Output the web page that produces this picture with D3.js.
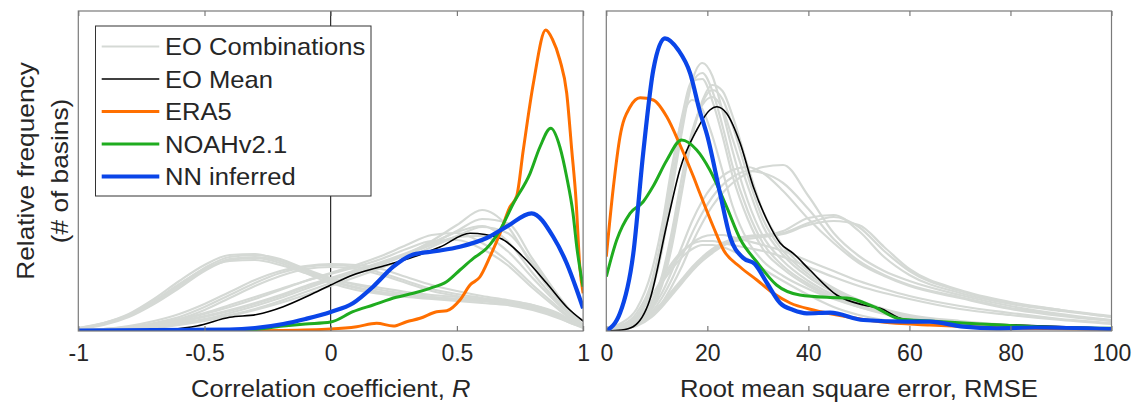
<!DOCTYPE html>
<html>
<head>
<meta charset="utf-8">
<script src="https://cdn.jsdelivr.net/npm/d3@7"></script>
<style>
  html, body { margin: 0; padding: 0; background: #fff; }
  svg text { font-family: "Liberation Sans", Arial, Helvetica, sans-serif; fill: #262626; }
</style>
</head>
<body>
<svg id="chart" width="1134" height="403"></svg>
<script>
// ---------------- DATA ----------------
// Left panel: correlation coefficient R ; right panel: RMSE. y = relative frequency (arbitrary units)
const corrTicks = [-1, -0.5, 0, 0.5, 1];
const corrTickLabels = ["-1", "-0.5", "0", "0.5", "1"];
const rmseTicks = [0, 20, 40, 60, 80, 100];
const rmseTickLabels = ["0", "20", "40", "60", "80", "100"];
const legendLabels = ["EO Combinations", "EO Mean", "ERA5", "NOAHv2.1", "NN inferred"];

// EO combinations (grey) – left panel, common grid
const gridR = [-1, -0.9, -0.8, -0.7, -0.6, -0.5, -0.4, -0.3, -0.2, -0.1, 0, 0.1, 0.2, 0.3, 0.4, 0.5, 0.6, 0.7, 0.8, 0.9, 0.95, 1];
const eoCombR = [
  [3, 8, 17, 32, 50, 66, 76, 77, 70, 60, 50, 43, 38, 35, 33, 31, 30, 28, 24, 15, 9, 4],
  [2, 7, 15, 29, 46, 63, 74, 76, 72, 62, 53, 46, 41, 37, 34, 32, 31, 29, 25, 16, 10, 5],
  [2, 6, 14, 27, 43, 60, 71, 73, 68, 58, 48, 41, 37, 34, 32, 30, 28, 26, 21, 13, 8, 3],
  [3, 8, 16, 30, 47, 62, 70, 71, 66, 58, 52, 47, 43, 39, 36, 34, 32, 30, 26, 18, 11, 5],
  [2, 7, 15, 28, 45, 61, 72, 74, 70, 61, 51, 44, 39, 36, 34, 32, 30, 27, 22, 14, 8, 4],
  [1, 2, 4, 8, 14, 24, 36, 48, 58, 64, 66, 64, 58, 50, 42, 37, 33, 29, 24, 15, 10, 5],
  [1, 2, 5, 10, 17, 27, 39, 51, 60, 65, 67, 66, 62, 54, 46, 40, 35, 31, 26, 17, 11, 6],
  [1, 2, 4, 7, 12, 21, 33, 45, 55, 62, 64, 62, 56, 48, 40, 35, 31, 27, 22, 14, 9, 4],
  [0, 1, 2, 4, 7, 11, 16, 22, 30, 39, 48, 57, 66, 77, 90, 106, 121, 105, 65, 32, 18, 5],
  [0, 1, 2, 4, 8, 12, 18, 25, 33, 42, 51, 59, 67, 76, 87, 100, 112, 108, 72, 36, 20, 6],
  [0, 1, 3, 6, 10, 15, 21, 28, 36, 45, 53, 61, 69, 78, 88, 99, 105, 90, 58, 29, 16, 5],
  [0, 1, 3, 6, 11, 17, 24, 32, 41, 50, 58, 66, 75, 86, 96, 98, 88, 70, 46, 24, 13, 4],
  [0, 1, 3, 7, 12, 18, 26, 34, 42, 50, 57, 64, 72, 82, 90, 91, 82, 66, 43, 22, 12, 4],
  [0, 0, 1, 3, 6, 10, 15, 21, 28, 36, 45, 54, 63, 73, 84, 95, 104, 98, 68, 34, 18, 6],
  [0, 1, 2, 5, 9, 14, 20, 27, 35, 44, 52, 60, 68, 77, 86, 94, 95, 80, 53, 27, 15, 5]
];

// EO mean (black) – left
const eoMeanRx = [-1, -0.75, -0.636, -0.53, -0.4, -0.293, -0.188, -0.082, 0, 0.088, 0.195, 0.327, 0.433, 0.552, 0.671, 0.763, 0.856, 0.935, 1];
const eoMeanRy = [0, 0, 1.5, 5, 13.7, 16.5, 24.3, 36, 46, 56, 64, 74, 84, 97.7, 92.7, 74, 47.7, 24, 10];
// ERA5 (orange) – left
const era5Rx = [-1, -0.45, -0.2, 0, 0.103, 0.182, 0.248, 0.301, 0.354, 0.42, 0.46, 0.512, 0.552, 0.591, 0.631, 0.671, 0.71, 0.737, 0.763, 0.803, 0.852, 0.878, 0.908, 0.935, 0.955, 0.972, 0.987, 1];
const era5Ry = [0, 0, 0.5, 2, 4.3, 7.7, 5, 9.3, 12.7, 19.3, 20.3, 31, 46, 54, 74.3, 97.7, 124, 135, 181, 247.7, 301, 292, 271, 238, 181, 131, 64, 37.7];
// NOAHv2.1 (green) – left
const noahRx = [-1, -0.35, -0.188, -0.1, 0, 0.088, 0.168, 0.26, 0.327, 0.393, 0.459, 0.512, 0.565, 0.618, 0.671, 0.724, 0.79, 0.829, 0.872, 0.908, 0.935, 0.96, 0.975, 1];
const noahRy = [0, 0.5, 5, 7, 9, 19.3, 26, 33.7, 37.7, 42.7, 49.3, 61, 72.7, 82.7, 101, 127.7, 157.7, 184, 202.7, 184, 154, 117.7, 84, 44.3];
// NN inferred (blue) – left
const nnRx = [-1, -0.4, -0.3, -0.188, -0.1, 0, 0.088, 0.168, 0.248, 0.327, 0.42, 0.512, 0.618, 0.697, 0.796, 0.882, 0.935, 0.975, 1];
const nnRy = [0.5, 1.5, 3, 7, 12, 19, 27.7, 44.3, 64.3, 76.5, 80, 84.3, 93, 104.3, 117.7, 94, 67.7, 41, 22.7];

// EO combinations (grey) – right panel, common grid
const gridE = [0, 3, 6, 9, 11, 13, 15, 17, 19, 21, 23, 25, 28, 31, 35, 40, 45, 50, 55, 60, 70, 80, 90, 100];
const eoCombE = [
  [2, 5, 14, 40, 80, 140, 200, 250, 268, 255, 220, 180, 130, 95, 70, 50, 36, 26, 19, 14, 8, 5, 3, 2],
  [2, 5, 15, 45, 88, 150, 205, 248, 258, 240, 205, 165, 120, 88, 65, 47, 34, 25, 18, 13, 8, 5, 3, 2],
  [3, 6, 18, 50, 95, 160, 215, 250, 252, 230, 195, 155, 112, 82, 62, 45, 33, 24, 17, 12, 7, 4, 3, 2],
  [1, 3, 8, 22, 45, 85, 140, 195, 230, 246, 240, 215, 165, 120, 85, 60, 43, 31, 22, 16, 10, 6, 4, 2],
  [1, 3, 9, 25, 50, 92, 145, 195, 228, 241, 232, 205, 155, 112, 80, 57, 41, 30, 21, 15, 9, 6, 4, 2],
  [3, 8, 22, 60, 105, 165, 212, 231, 222, 195, 160, 125, 90, 70, 55, 42, 32, 24, 18, 13, 8, 5, 3, 2],
  [1, 4, 10, 28, 55, 100, 155, 200, 226, 234, 222, 192, 145, 105, 76, 54, 39, 28, 20, 14, 9, 5, 3, 2],
  [0, 2, 8, 22, 38, 60, 85, 110, 130, 145, 155, 161, 164, 158, 140, 112, 88, 68, 55, 45, 33, 22, 15, 10],
  [0, 1, 6, 16, 28, 45, 65, 88, 108, 125, 138, 148, 158, 164, 166, 135, 98, 75, 60, 50, 36, 25, 17, 11],
  [0, 2, 7, 19, 33, 52, 75, 98, 118, 134, 146, 154, 160, 158, 148, 122, 92, 70, 56, 46, 34, 23, 16, 10],
  [0, 2, 6, 16, 26, 38, 50, 62, 72, 80, 86, 90, 94, 95, 100, 113, 116, 100, 74, 56, 38, 27, 20, 14],
  [0, 3, 8, 18, 28, 40, 52, 64, 74, 82, 88, 92, 95, 96, 98, 108, 114, 104, 80, 60, 40, 28, 21, 15],
  [0, 2, 5, 14, 24, 36, 48, 60, 70, 78, 85, 89, 92, 94, 97, 106, 110, 106, 84, 62, 41, 29, 21, 14],
  [0, 3, 12, 30, 48, 65, 78, 88, 94, 96, 96, 94, 90, 86, 80, 70, 60, 50, 42, 35, 25, 18, 12, 8],
  [0, 4, 15, 35, 52, 68, 80, 87, 90, 90, 88, 86, 83, 80, 74, 64, 54, 45, 38, 32, 22, 16, 11, 7],
  [0, 3, 12, 30, 48, 62, 74, 82, 86, 86, 84, 80, 72, 62, 50, 36, 24, 16, 11, 8, 5, 3, 2, 1]
];
// EO mean (black) – right
const eoMeanEx = [0, 3, 5.3, 8.6, 12, 14.6, 17.9, 20.5, 21.9, 23.8, 26.5, 29.1, 31.8, 34.4, 37, 40.3, 45.6, 50.9, 54.2, 58.8, 67.4, 80.5, 100];
const eoMeanEy = [0, 1, 4.3, 31, 107, 162, 201, 221, 224.3, 217.7, 187.7, 144.3, 111, 88, 77.7, 61, 36, 26, 22.7, 11.7, 8.3, 6, 2.7];
// ERA5 (orange) – right
const era5Ex = [0, 1.4, 2.7, 4.7, 6.7, 9.3, 12, 14.6, 17.2, 18.5, 21.2, 23.2, 26.5, 29.8, 33, 36.4, 41, 47.6, 54.2, 64, 80, 100];
const era5Ey = [74.3, 144, 194, 224, 233.3, 231, 214, 186, 155, 138, 104, 81, 64, 51, 38, 28, 21, 14.3, 9.3, 6, 3, 2];
// NOAHv2.1 (green) – right
const noahEx = [0, 2.06, 4.7, 7.3, 9.3, 12, 14.9, 17.9, 20.5, 23.8, 26.5, 29.8, 33.7, 38.3, 44.3, 47.6, 52.9, 58.1, 64, 74, 85, 100];
const noahEy = [54.3, 91, 117.7, 129.3, 145, 171, 191, 181, 161, 124.3, 92, 69, 46, 36, 33.5, 33, 24.3, 12, 10, 7, 4.3, 2.7];
// NN inferred (blue) – right
const nnEx = [0, 2.7, 5.35, 7.3, 9.3, 11.6, 14.25, 16.6, 18.5, 20.0, 22.5, 24.5, 27.1, 29.4, 31.8, 34.4, 37, 39.7, 44.3, 50.9, 59.5, 64, 70.7, 77.3, 85, 100];
const nnEy = [0, 17.7, 77.7, 177.7, 261, 292.7, 281, 257.7, 220, 195, 138, 94, 73, 67, 48, 28, 21, 17.7, 18.3, 11, 9.3, 9.3, 4.3, 2.7, 3.5, 2];

// ---------------- STYLE ----------------
const COL = { grey: "#d5d9d5", black: "#000000", orange: "#ff6f00", green: "#1fac1f", blue: "#0a45e8" };
const WID = { grey: 2.2, black: 1.6, orange: 3, green: 3, blue: 4.2 };
const TXT_STRETCH = 1.065;   // reference glyphs are slightly wider than Liberation Sans

// ---------------- DRAW ----------------
const svg = d3.select("#chart");
const yTop = 11, yBot = 331;
const y = d3.scaleLinear().domain([0, 320]).range([yBot, yTop]);
const xL = d3.scaleLinear().domain([-1, 1]).range([78.3, 583.1]);
const xE = d3.scaleLinear().domain([0, 100]).range([606.3, 1111.5]);

function zip(xs, ys) { return xs.map((v, i) => [v, ys[i]]); }

function panel(id, x, ticks, tickLabels, grey, gridX, series, xlabelParts, zeroLine) {
  const g = svg.append("g");
  const [x0, x1] = x.range();
  g.append("clipPath").attr("id", "clip" + id).append("rect")
    .attr("x", x0).attr("y", yTop).attr("width", x1 - x0).attr("height", yBot - yTop);

  const line = d3.line().x(d => x(d[0])).y(d => y(d[1])).curve(d3.curveMonotoneX);
  const plot = g.append("g").attr("clip-path", `url(#clip${id})`);

  if (zeroLine) {
    plot.append("line").attr("x1", x(0)).attr("x2", x(0)).attr("y1", yTop).attr("y2", yBot)
      .attr("stroke", "#000").attr("stroke-width", 1);
  }
  grey.forEach(arr => {
    plot.append("path").attr("d", line(zip(gridX, arr))).attr("fill", "none")
      .attr("stroke", COL.grey).attr("stroke-width", WID.grey).attr("stroke-linejoin", "round");
  });
  series.forEach(s => {
    plot.append("path").attr("d", line(zip(s.x, s.y))).attr("fill", "none")
      .attr("stroke", COL[s.k]).attr("stroke-width", WID[s.k]).attr("stroke-linejoin", "round");
  });

  // frame
  g.append("rect").attr("x", x0).attr("y", yTop).attr("width", x1 - x0).attr("height", yBot - yTop)
    .attr("fill", "none").attr("stroke", "#7a7a7a").attr("stroke-width", 1.2);
  // ticks inside (bottom & top)
  const axB = d3.axisBottom(x).tickValues(ticks).tickSize(-5).tickFormat((d, i) => tickLabels[i]).tickPadding(14);
  const gb = g.append("g").attr("transform", `translate(0,${yBot})`).call(axB);
  gb.select(".domain").remove();
  gb.selectAll(".tick line").attr("stroke", "#7a7a7a").attr("stroke-width", 1.2);
  gb.selectAll(".tick text").attr("font-size", 23).attr("fill", "#262626")
    .attr("font-family", '"Liberation Sans", Arial, sans-serif');
  const axT = d3.axisTop(x).tickValues(ticks).tickSize(-5).tickFormat("");
  const gt = g.append("g").attr("transform", `translate(0,${yTop})`).call(axT);
  gt.select(".domain").remove();
  gt.selectAll(".tick line").attr("stroke", "#7a7a7a").attr("stroke-width", 1.2);

  // x label
  const t = g.append("text")
    .attr("transform", `translate(${(x0 + x1) / 2},397) scale(${TXT_STRETCH},1)`)
    .attr("text-anchor", "middle").attr("font-size", 24);
  xlabelParts.forEach(p => {
    const ts = t.append("tspan").text(p.t);
    if (p.i) ts.attr("font-style", "italic");
  });
  return g;
}

panel("L", xL, corrTicks, corrTickLabels, eoCombR, gridR, [
  { k: "black", x: eoMeanRx, y: eoMeanRy },
  { k: "orange", x: era5Rx, y: era5Ry },
  { k: "green", x: noahRx, y: noahRy },
  { k: "blue", x: nnRx, y: nnRy }
], [{ t: "Correlation coefficient, " }, { t: "R", i: true }], true);

panel("E", xE, rmseTicks, rmseTickLabels, eoCombE, gridE, [
  { k: "black", x: eoMeanEx, y: eoMeanEy },
  { k: "orange", x: era5Ex, y: era5Ey },
  { k: "green", x: noahEx, y: noahEy },
  { k: "blue", x: nnEx, y: nnEy }
], [{ t: "Root mean square error, RMSE" }], false);

// y label (two lines)
const yc = (yTop + yBot) / 2;
svg.append("text").attr("transform", `translate(34,${yc}) rotate(-90) scale(${TXT_STRETCH + 0.03},1)`)
  .attr("text-anchor", "middle").attr("font-size", 24).text("Relative frequency");
svg.append("text").attr("transform", `translate(68,${yc}) rotate(-90) scale(${TXT_STRETCH + 0.03},1)`)
  .attr("text-anchor", "middle").attr("font-size", 24).text("(# of basins)");

// legend
const lg = svg.append("g");
lg.append("rect").attr("x", 95.5).attr("y", 26).attr("width", 275.5).attr("height", 170)
  .attr("fill", "#fff").attr("stroke", "#333").attr("stroke-width", 1);
const keys = ["grey", "black", "orange", "green", "blue"];
legendLabels.forEach((lab, i) => {
  const cy = 46.5 + i * 32.5;
  lg.append("line").attr("x1", 101.7).attr("x2", 159.3).attr("y1", cy).attr("y2", cy)
    .attr("stroke", COL[keys[i]]).attr("stroke-width", WID[keys[i]]);
  lg.append("text").attr("transform", `translate(165,${cy}) scale(${TXT_STRETCH},1)`)
    .attr("dy", "0.36em").attr("font-size", 24).attr("fill", "#000").text(lab);
});
</script>
</body>
</html>
